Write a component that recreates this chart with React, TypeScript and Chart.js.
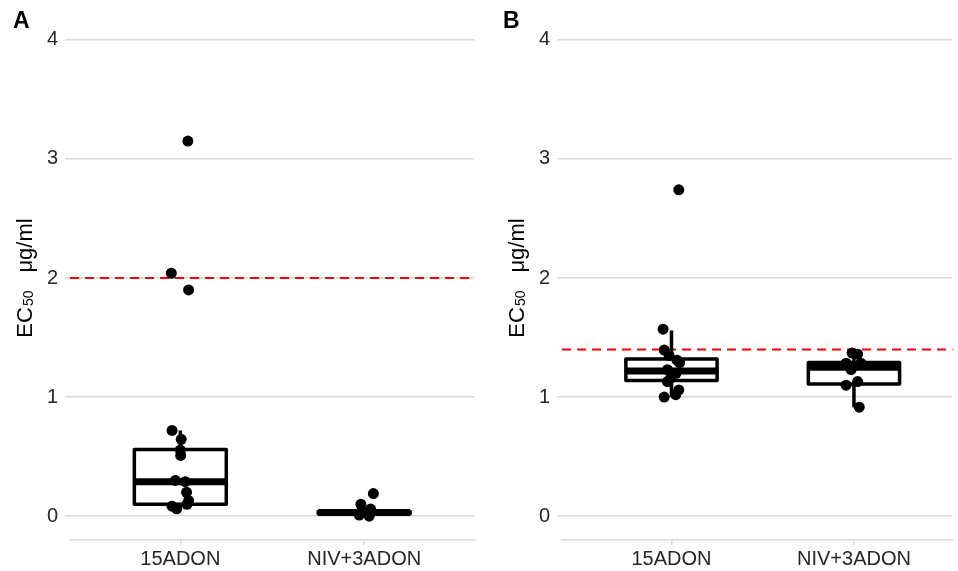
import React, { useEffect, useRef } from 'react';
import { Chart, registerables } from 'chart.js';

Chart.register(...registerables);

// ---------- data ----------
const categories = ['15ADON', 'NIV+3ADON'];
const yTickValues = [0, 1, 2, 3, 4];

// Panel A – individual EC50 values (µg/ml) and horizontal jitter (category units)
const a15Values = [3.15, 2.04, 1.9, 0.72, 0.645, 0.555, 0.51, 0.3, 0.29, 0.2, 0.13, 0.1, 0.084, 0.062];
const a15Jitter = [0.041, -0.049, 0.045, -0.045, 0.005, 0.0, 0.002, -0.027, 0.027, 0.034, 0.045, 0.036, -0.045, -0.02];
const aNivValues = [0.19, 0.1, 0.06, 0.03, 0.01, 0.0];
const aNivJitter = [0.05, -0.018, 0.035, 0.01, -0.027, 0.027];
// Panel A – box statistics per category
const aLow = [0.05, 0.0];
const aQ1 = [0.1, 0.02];
const aMedian = [0.29, 0.03];
const aQ3 = [0.56, 0.04];
const aHigh = [0.72, 0.06];
const aThreshold = 2.0;

// Panel B
const b15Values = [2.74, 1.57, 1.395, 1.35, 1.31, 1.29, 1.23, 1.2, 1.16, 1.13, 1.06, 1.02, 1.0];
const b15Jitter = [0.04, -0.046, -0.04, -0.013, 0.03, 0.045, -0.022, 0.025, -0.004, -0.022, 0.04, 0.023, -0.04];
const bNivValues = [1.37, 1.36, 1.285, 1.285, 1.23, 1.13, 1.1, 0.915];
const bNivJitter = [-0.01, 0.02, -0.043, 0.038, -0.016, 0.02, -0.043, 0.029];
const bLow = [1.0, 0.915];
const bQ1 = [1.14, 1.11];
const bMedian = [1.22, 1.25];
const bQ3 = [1.32, 1.29];
const bHigh = [1.56, 1.36];
const bThreshold = 1.4;

// ---------- styling ----------
const FONT = '"Liberation Sans", Arial, Helvetica, sans-serif';
const GRID = '#d9d9d9';
const TICK_COLOR = '#262626';

type PanelProps = {
  label: string;
  values: number[][];
  jitter: number[][];
  low: number[];
  q1: number[];
  median: number[];
  q3: number[];
  high: number[];
  threshold: number;
  width: number;
  left: number;
  axisWidth: number;
  rightPad: number;
  xMax: number;
  labelX: number;
};

function Panel(p: PanelProps) {
  const ref = useRef<HTMLCanvasElement | null>(null);

  useEffect(() => {
    if (!ref.current) return;

    const overlay = {
      id: 'overlay',
      beforeDatasetsDraw(chart: any) {
        const { ctx, chartArea, scales } = chart;
        const x = scales.x;
        const y = scales.y;
        ctx.save();
        // threshold line
        const ty = y.getPixelForValue(p.threshold);
        ctx.strokeStyle = '#ff0000';
        ctx.lineWidth = 2;
        ctx.setLineDash([9, 6]);
        ctx.beginPath();
        ctx.moveTo(chartArea.left, ty);
        ctx.lineTo(chartArea.right, ty);
        ctx.stroke();
        ctx.setLineDash([]);
        // boxes
        for (let i = 0; i < categories.length; i++) {
          const cx = x.getPixelForValue(i + 1);
          const hw = x.getPixelForValue(i + 1.25) - cx;
          const yLo = y.getPixelForValue(p.low[i]);
          const yQ1 = y.getPixelForValue(p.q1[i]);
          const yMed = y.getPixelForValue(p.median[i]);
          const yQ3 = y.getPixelForValue(p.q3[i]);
          const yHi = y.getPixelForValue(p.high[i]);
          ctx.strokeStyle = '#000';
          ctx.lineWidth = 3.5;
          ctx.beginPath();
          ctx.moveTo(cx, yHi);
          ctx.lineTo(cx, yQ3);
          ctx.moveTo(cx, yQ1);
          ctx.lineTo(cx, yLo);
          ctx.stroke();
          ctx.fillStyle = '#fff';
          ctx.fillRect(cx - hw, yQ3, 2 * hw, yQ1 - yQ3);
          ctx.lineJoin = 'round';
          ctx.strokeRect(cx - hw, yQ3, 2 * hw, yQ1 - yQ3);
          ctx.lineWidth = 7;
          ctx.beginPath();
          ctx.moveTo(cx - hw, yMed);
          ctx.lineTo(cx + hw, yMed);
          ctx.stroke();
        }
        ctx.restore();
      },
      afterDraw(chart: any) {
        const { ctx, chartArea } = chart;
        ctx.save();
        // panel label
        ctx.fillStyle = '#000';
        ctx.font = `bold 23px ${FONT}`;
        ctx.textAlign = 'left';
        ctx.textBaseline = 'alphabetic';
        ctx.fillText(p.label, p.labelX, 28);
        // y-axis title with subscript
        ctx.translate(chartArea.left - 38, (chartArea.top + chartArea.bottom) / 2);
        ctx.rotate(-Math.PI / 2);
        const big = `22px ${FONT}`;
        const small = `14px ${FONT}`;
        ctx.font = big;
        const w1 = ctx.measureText('EC').width;
        const w3 = ctx.measureText('μg/ml').width;
        ctx.font = small;
        const w2 = ctx.measureText('50').width;
        const gap = 18;
        const total = w1 + 1 + w2 + gap + w3;
        let xx = -total / 2;
        ctx.fillStyle = '#000';
        ctx.font = big;
        ctx.fillText('EC', xx, 0);
        xx += w1 + 1;
        ctx.font = small;
        ctx.fillText('50', xx, 1);
        xx += w2 + gap;
        ctx.font = big;
        ctx.fillText('μg/ml', xx, 0);
        ctx.restore();
      },
    };

    const toPoints = (vals: number[], jit: number[], idx: number) =>
      vals.map((v, k) => ({ x: idx + 1 + jit[k], y: v }));

    const chart = new Chart(ref.current, {
      type: 'scatter',
      data: {
        datasets: p.values.map((vals, i) => ({
          label: categories[i],
          data: toPoints(vals, p.jitter[i], i),
          pointRadius: 5.5,
          pointHoverRadius: 5.5,
          backgroundColor: '#000',
          borderColor: '#000',
          borderWidth: 0,
        })),
      },
      options: {
        responsive: false,
        animation: false,
        events: [],
        layout: { padding: { left: 0, right: p.rightPad, top: 16, bottom: 0 } },
        plugins: { legend: { display: false }, tooltip: { enabled: false } },
        scales: {
          x: {
            type: 'linear',
            min: 0.4,
            max: p.xMax,
            afterBuildTicks: (s: any) => {
              s.ticks = categories.map((_, i) => ({ value: i + 1 }));
            },
            ticks: {
              autoSkip: false,
              maxRotation: 0,
              padding: 2,
              color: TICK_COLOR,
              font: { family: FONT, size: 20 },
              callback: (v: any) => categories[Math.round(Number(v)) - 1] ?? '',
            },
            grid: { drawOnChartArea: false, drawTicks: true, tickLength: 5, color: GRID, lineWidth: 1.5 },
            border: { display: true, color: GRID, width: 1.5 },
            afterFit: (s: any) => {
              s.height = 31;
              s.paddingLeft = 0;
              s.paddingRight = 0;
            },
          },
          y: {
            type: 'linear',
            min: -0.2,
            max: 4.2,
            afterBuildTicks: (s: any) => {
              s.ticks = yTickValues.map((v) => ({ value: v }));
            },
            ticks: {
              padding: 7,
              color: TICK_COLOR,
              font: { family: FONT, size: 20 },
              callback: (v: any) => String(v),
            },
            grid: { color: GRID, lineWidth: 1.5, drawTicks: true, tickLength: 5 },
            border: { display: false },
            afterFit: (s: any) => {
              s.width = p.axisWidth;
              s.paddingTop = 0;
              s.paddingBottom = 0;
            },
          },
        },
      },
      plugins: [overlay],
    } as any);

    return () => chart.destroy();
  }, []);

  return (
    <canvas
      ref={ref}
      width={p.width}
      height={571}
      style={{ position: 'absolute', left: p.left, top: 0, width: p.width, height: 571 }}
    />
  );
}

export default function App() {
  return (
    <div style={{ position: 'fixed', left: 0, top: 0, width: 958, height: 571, background: '#fff', overflow: 'hidden' }}>
      <Panel
        label="A"
        values={[a15Values, aNivValues]}
        jitter={[a15Jitter, aNivJitter]}
        low={aLow}
        q1={aQ1}
        median={aMedian}
        q3={aQ3}
        high={aHigh}
        threshold={aThreshold}
        width={480}
        left={0}
        axisWidth={70}
        rightPad={3}
        xMax={2.6}
        labelX={13}
      />
      <Panel
        label="B"
        values={[b15Values, bNivValues]}
        jitter={[b15Jitter, bNivJitter]}
        low={bLow}
        q1={bQ1}
        median={bMedian}
        q3={bQ3}
        high={bHigh}
        threshold={bThreshold}
        width={478}
        left={480}
        axisWidth={82}
        rightPad={0}
        xMax={2.54}
        labelX={23}
      />
    </div>
  );
}
